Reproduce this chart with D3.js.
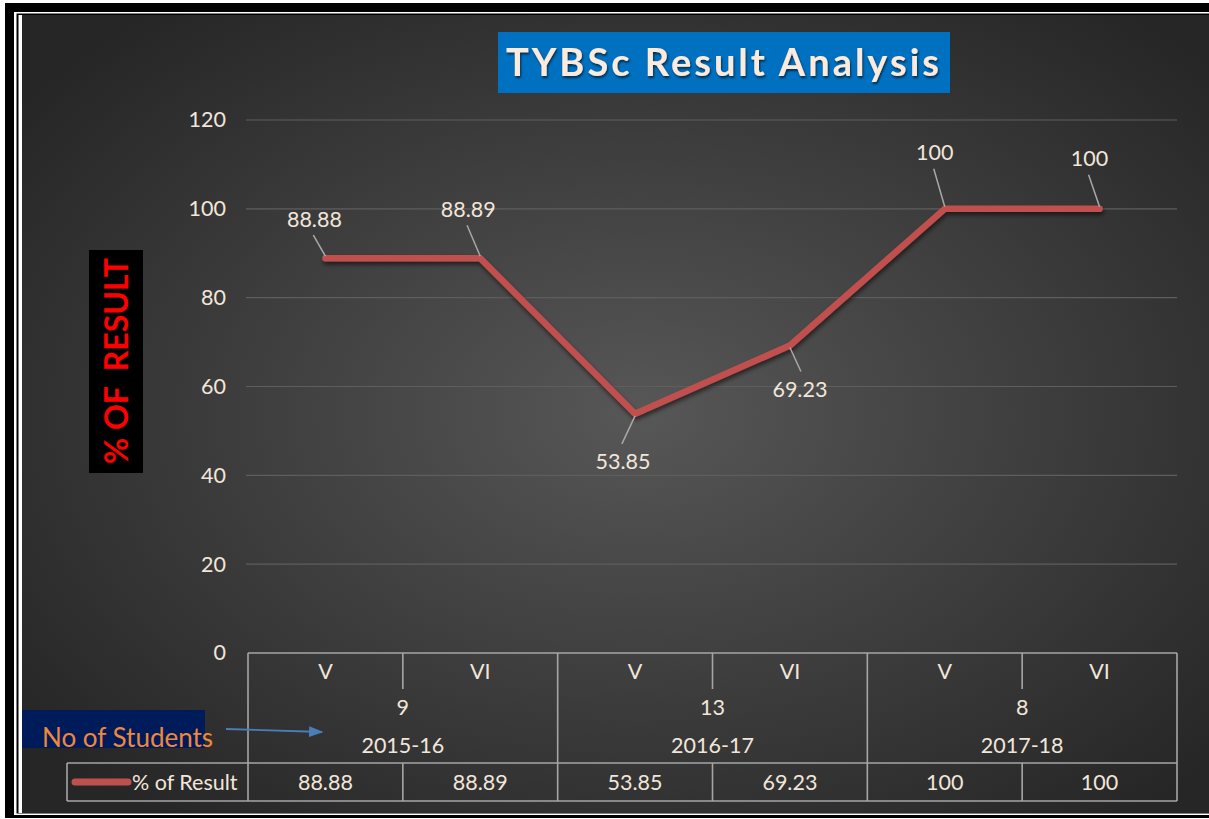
<!DOCTYPE html>
<html><head><meta charset="utf-8">
<script src="https://cdn.jsdelivr.net/npm/d3@7/dist/d3.min.js"></script>
<style>html,body{margin:0;padding:0;background:#fff;}svg{display:block;}</style>
</head><body>
<script>
const semesters = ["V","VI","V","VI","V","VI"];
const years = ["2015-16","2016-17","2017-18"];
const students = ["9","13","8"];
const results = [88.88, 88.89, 53.85, 69.23, 100, 100];
const yTicks = [0,20,40,60,80,100,120];
const seriesName = "% of Result";
const titleText = "TYBSc Result Analysis";
const yTitle = "% OF  RESULT";
const noteText = "No of Students";
// label offsets relative to point (dx, dy of label center)
const labelOffsets = [[-11,-39],[-12,-49],[-12,48],[10,44],[-10,-56],[-10,-50]];

const W = 1209, H = 819;
const svg = d3.select("body").append("svg").attr("width", W).attr("height", H);
const defs = svg.append("defs");
const rg = defs.append("radialGradient").attr("id","bg").attr("cx","52%").attr("cy","50%").attr("r","65%");
rg.append("stop").attr("offset","0%").attr("stop-color","#575757");
rg.append("stop").attr("offset","100%").attr("stop-color","#262626");
const sh = defs.append("filter").attr("id","sh").attr("x","-10%").attr("y","-10%").attr("width","120%").attr("height","130%");
sh.append("feDropShadow").attr("dx",1).attr("dy",3).attr("stdDeviation",2).attr("flood-color","#000").attr("flood-opacity",0.55);
const tsh = defs.append("filter").attr("id","tsh");
tsh.append("feDropShadow").attr("dx",1).attr("dy",2).attr("stdDeviation",1.2).attr("flood-color","#000").attr("flood-opacity",0.6);

// frame
svg.append("rect").attr("x",5).attr("y",3).attr("width",W-5).attr("height",815).attr("fill","#000");
svg.append("rect").attr("x",14).attr("y",12).attr("width",W-14).attr("height",803).attr("fill","#fff");
svg.append("rect").attr("x",16.5).attr("y",13.5).attr("width",W-16.5).attr("height",800).attr("fill","#000");
svg.append("rect").attr("x",18.5).attr("y",15).attr("width",W-18.5).attr("height",798).attr("fill","#fff");
svg.append("rect").attr("x",22).attr("y",15).attr("width",W-22).attr("height",798).attr("fill","url(#bg)");

const x0 = 248, x1 = 1177;
const x = d3.scaleBand().domain(d3.range(results.length)).range([x0, x1]).padding(0);
const y = d3.scaleLinear().domain([0,120]).range([653,120]);
const cx = i => x(i) + x.bandwidth()/2;
const txt = "#f2e6da";
const font = "Lato, 'Open Sans', sans-serif";
const fs = 21.5;

// gridlines + axis
const yAxis = d3.axisLeft(y).tickValues(yTicks).tickSize(0).tickPadding(0);
const ga = svg.append("g").attr("transform","translate(226,0)").call(yAxis);
ga.select(".domain").remove();
ga.selectAll("text").attr("fill",txt).attr("font-size",fs).attr("font-family",font).attr("dy","0.32em");
svg.append("g").selectAll("line").data(yTicks.filter(d=>d>0)).join("line")
  .attr("x1",246).attr("x2",x1).attr("y1",d=>y(d)).attr("y2",d=>y(d))
  .attr("stroke","#5e5e5e").attr("stroke-width",1.2);

// line
const line = d3.line().x((d,i)=>cx(i)).y(d=>y(d));
svg.append("path").datum(results).attr("d",line).attr("fill","none")
  .attr("stroke","#c0504d").attr("stroke-width",6.5).attr("stroke-linecap","round").attr("stroke-linejoin","round")
  .attr("filter","url(#sh)");

// labels + leader lines
results.forEach((v,i)=>{
  const px = cx(i), py = y(v);
  const [dx,dy] = labelOffsets[i];
  const lx = px+dx, ly = py+dy;
  const sy = dy<0 ? ly+16 : ly-18;
  const ey = dy<0 ? py-2 : py+2;
  svg.append("line").attr("x1",lx+ (dx*0.1)).attr("y1",sy).attr("x2",px).attr("y2",ey)
    .attr("stroke","#a8a8a8").attr("stroke-width",1.5);
  svg.append("text").attr("x",lx).attr("y",ly).attr("dy","0.35em").attr("text-anchor","middle")
    .attr("fill",txt).attr("font-size",fs).attr("font-family",font).text(v);
});

// table
const tl = "#a6a6a6";
const tg = svg.append("g").attr("stroke",tl).attr("stroke-width",1.6);
tg.append("line").attr("x1",x0).attr("x2",x1).attr("y1",653).attr("y2",653);
tg.append("line").attr("x1",67).attr("x2",x1).attr("y1",763).attr("y2",763);
tg.append("line").attr("x1",67).attr("x2",x1).attr("y1",801).attr("y2",801);
tg.append("line").attr("x1",67).attr("x2",67).attr("y1",763).attr("y2",801);
d3.range(results.length+1).forEach(i=>{
  const xx = i<results.length ? x(i) : x1;
  if (i%2===0) tg.append("line").attr("x1",xx).attr("x2",xx).attr("y1",653).attr("y2",801);
  else {
    tg.append("line").attr("x1",xx).attr("x2",xx).attr("y1",653).attr("y2",689);
    tg.append("line").attr("x1",xx).attr("x2",xx).attr("y1",763).attr("y2",801);
  }
});
const tt = svg.append("g").attr("fill",txt).attr("font-size",fs).attr("font-family",font).attr("text-anchor","middle");
semesters.forEach((s,i)=>tt.append("text").attr("x",cx(i)).attr("y",671).attr("dy","0.35em").text(s));
results.forEach((v,i)=>tt.append("text").attr("x",cx(i)).attr("y",782).attr("dy","0.35em").text(v));
years.forEach((yr,g)=>{
  const gx = (x(g*2) + x(g*2+1) + x.bandwidth())/2;
  tt.append("text").attr("x",gx).attr("y",707).attr("dy","0.35em").text(students[g]);
  tt.append("text").attr("x",gx).attr("y",745).attr("dy","0.35em").text(yr);
});
// legend
svg.append("line").attr("x1",75).attr("x2",128).attr("y1",782).attr("y2",782)
  .attr("stroke","#c0504d").attr("stroke-width",7).attr("stroke-linecap","round");
svg.append("text").attr("x",132).attr("y",782).attr("dy","0.35em").attr("fill",txt)
  .attr("font-size",fs).attr("font-family",font).text(seriesName);

// No of students note
svg.append("rect").attr("x",22).attr("y",710).attr("width",183).attr("height",38).attr("fill","#001b5a");
svg.append("text").attr("x",42).attr("y",738).attr("dy","0.35em").attr("fill","#f0883a")
  .attr("font-size",26).attr("font-family",font).text(noteText);
defs.append("marker").attr("id","arr").attr("viewBox","0 0 10 10").attr("refX",9).attr("refY",5)
  .attr("markerWidth",8).attr("markerHeight",6).attr("orient","auto").attr("preserveAspectRatio","none")
  .append("path").attr("d","M0,0L10,5L0,10z").attr("fill","#4a7ebb");
svg.append("line").attr("x1",226).attr("y1",729).attr("x2",322).attr("y2",732)
  .attr("stroke","#4a7ebb").attr("stroke-width",1.8).attr("marker-end","url(#arr)");

// title
svg.append("rect").attr("x",498).attr("y",32).attr("width",452).attr("height",61).attr("fill","#0070c0");
svg.append("text").attr("x",724).attr("y",63).attr("dy","0.35em").attr("text-anchor","middle")
  .attr("fill","#fdeadb").attr("font-size",38).attr("font-weight","bold").attr("letter-spacing",3)
  .attr("font-family",font).attr("filter","url(#tsh)").text(titleText);

// y title
svg.append("rect").attr("x",89).attr("y",250).attr("width",54).attr("height",223).attr("fill","#000");
svg.append("text").attr("transform","translate(117,361) rotate(-90)").attr("dy","0.35em").attr("text-anchor","middle")
  .attr("fill","#ff0000").attr("font-size",32).attr("font-weight","bold").attr("font-family",font)
  .attr("xml:space","preserve").style("white-space","pre").text(yTitle);
</script>
</body></html>
